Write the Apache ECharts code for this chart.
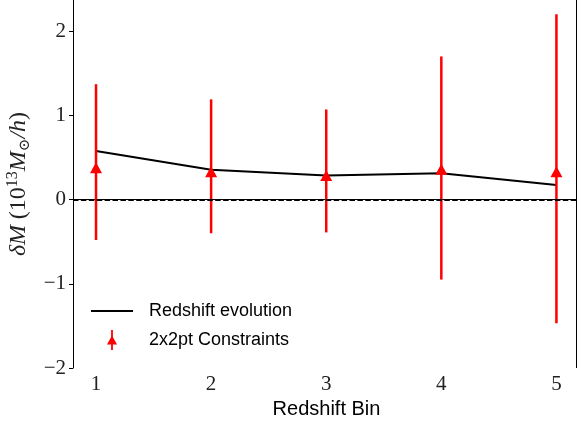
<!DOCTYPE html>
<html>
<head>
<meta charset="utf-8">
<script src="https://cdn.jsdelivr.net/npm/echarts@6/dist/echarts.min.js"></script>
<style>html,body{margin:0;padding:0;background:#fff;}#chart{width:577px;height:427px;}</style>
</head>
<body>
<div id="chart"></div>
<script>
// Data
const bins = [1, 2, 3, 4, 5];
const evolution = [0.577, 0.354, 0.287, 0.312, 0.173];
const constraintMean = [0.378, 0.330, 0.285, 0.360, 0.330];
const constraintLow = [-0.48, -0.40, -0.39, -0.95, -1.47];
const constraintHigh = [1.37, 1.19, 1.07, 1.70, 2.20];
const xTicks = [1, 2, 3, 4, 5];
const yTicks = [-2, -1, 0, 1, 2];

const lineData = bins.map((b, i) => [b, evolution[i]]);
const errData = bins.map((b, i) => [b, constraintMean[i], constraintLow[i], constraintHigh[i]]);

const chart = echarts.init(document.getElementById('chart'), null, {renderer: 'canvas'});
const serif = "'Liberation Serif', 'DejaVu Serif', serif";
const sans = "'Liberation Sans', 'DejaVu Sans', sans-serif";

const option = {
  animation: false,
  backgroundColor: '#fff',
  grid: {left: 73, right: 1, top: 0, bottom: 59, containLabel: false, outerBoundsMode: 'none',
         show: false},
  legend: {
    orient: 'vertical', left: 86, top: 297, itemWidth: 42, itemHeight: 20, itemGap: 10,
    symbolKeepAspect: true,
    textStyle: {fontFamily: sans, fontSize: 18, color: '#000', padding: [0, 0, 0, 11]},
    data: [
      {name: 'Redshift evolution', icon: 'path://M0,0H42V2H0Z', itemStyle: {color: '#000'}},
      {name: '2x2pt Constraints', icon: 'path://M4.1,0H5.9V20H4.1Z M0,14.5L5,5.5L10,14.5Z', itemStyle: {color: '#ff0000'}}
    ]
  },
  xAxis: {
    type: 'value', min: 0.8, max: 5.17,
    name: 'Redshift Bin', nameLocation: 'middle', nameGap: 30,
    nameTextStyle: {fontFamily: sans, fontSize: 20, color: '#000', padding: [0, 0, 0, 4]},
    axisLine: {show: true, lineStyle: {color: '#000', width: 1}},
    axisTick: {show: true, length: 4, lineStyle: {color: '#000', width: 1}, customValues: xTicks},
    axisLabel: {customValues: xTicks, fontFamily: serif, fontSize: 21, color: '#222', margin: 6},
    splitLine: {show: false}
  },
  yAxis: {
    type: 'value', min: -2, max: 2.37,
    name: '{i|δM} {r|(10}{s|13}{i|M}{b|⊙}{i|/h}{r|)}',
    nameLocation: 'middle', nameGap: 39,
    nameTextStyle: {
      fontFamily: serif, fontSize: 23, color: '#000',
      rich: {
        i: {fontFamily: serif, fontStyle: 'italic', fontSize: 24, color: '#222', lineHeight: 28},
        r: {fontFamily: serif, fontSize: 24, color: '#222', lineHeight: 28},
        s: {fontFamily: serif, fontSize: 16, color: '#222', lineHeight: 16, verticalAlign: 'top'},
        b: {fontFamily: serif, fontSize: 15, color: '#222', lineHeight: 15, verticalAlign: 'bottom'}
      }
    },
    axisLine: {show: true, lineStyle: {color: '#000', width: 1}},
    axisTick: {show: true, length: 4, lineStyle: {color: '#000', width: 1}, customValues: yTicks},
    axisLabel: {customValues: yTicks, fontFamily: serif, fontSize: 21, color: '#222', margin: 7,
                formatter: v => String(v).replace('-', '\u2212')},
    splitLine: {show: false}
  },
  series: [
    {
      name: 'Redshift evolution', type: 'line', data: lineData,
      showSymbol: false, symbol: 'none',
      lineStyle: {color: '#000', width: 2},
      itemStyle: {color: '#000'},
      z: 3,
      markLine: {
        silent: true, symbol: 'none', label: {show: false},
        lineStyle: {color: '#000', width: 1.8, type: [5.5, 2.4]},
        data: [{yAxis: 0}]
      }
    },
    {
      name: '2x2pt Constraints', type: 'custom', data: errData,
      itemStyle: {color: '#ff0000'},
      z: 4,
      encode: {x: 0, y: [1, 2, 3]},
      renderItem: function (params, api) {
        const x = api.value(0);
        const pMid = api.coord([x, api.value(1)]);
        const pLow = api.coord([x, api.value(2)]);
        const pHigh = api.coord([x, api.value(3)]);
        const w = 6, h = 5.5;
        return {
          type: 'group',
          children: [
            {type: 'line', shape: {x1: pLow[0], y1: pLow[1], x2: pHigh[0], y2: pHigh[1]},
             style: {stroke: '#ff0000', lineWidth: 2.5}},
            {type: 'polygon', shape: {points: [[pMid[0], pMid[1] - h], [pMid[0] - w, pMid[1] + h], [pMid[0] + w, pMid[1] + h]]},
             style: {fill: '#ff0000'}}
          ]
        };
      }
    }
  ],
  graphic: [
    {type: 'line', shape: {x1: 576.5, y1: 0, x2: 576.5, y2: 368}, style: {stroke: '#000', lineWidth: 1}}
  ]
};
chart.setOption(option);
</script>
</body>
</html>
